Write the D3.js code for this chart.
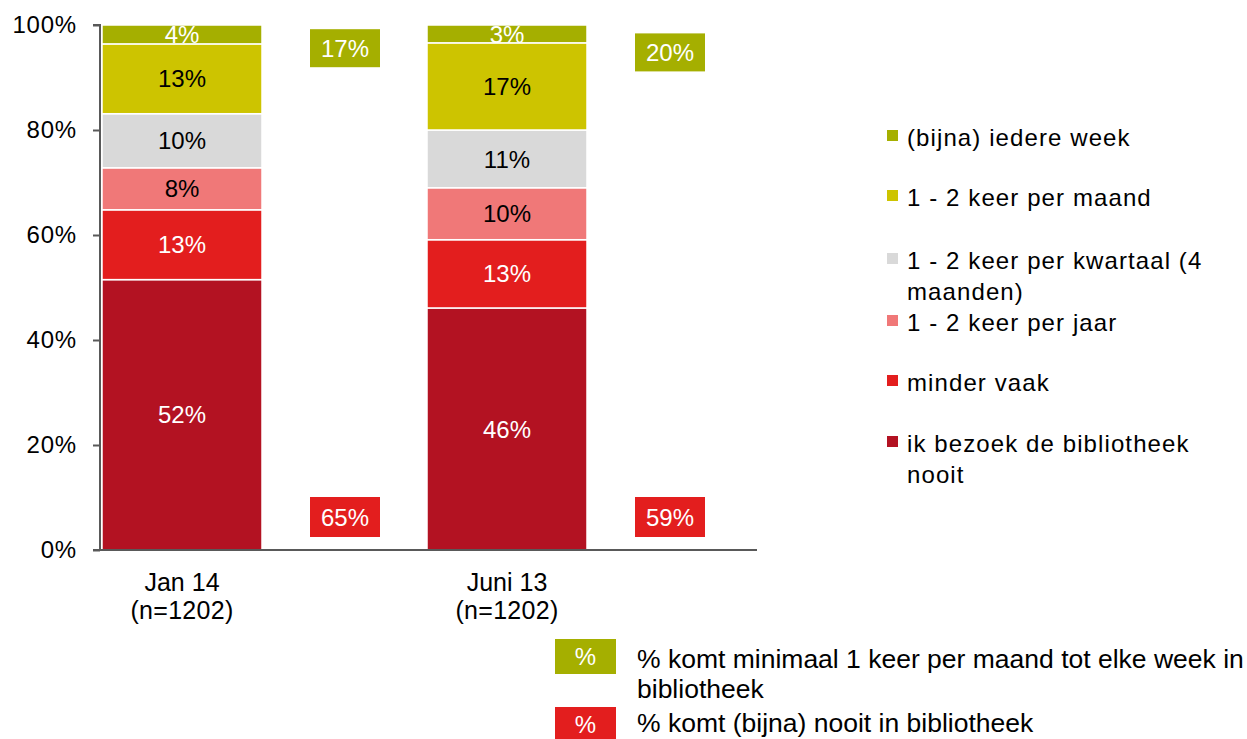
<!DOCTYPE html>
<html><head><meta charset="utf-8">
<script src="https://cdn.jsdelivr.net/npm/d3@7"></script>
<style>
body{margin:0;background:#fff;}
svg text{font-family:"Liberation Sans",Arial,sans-serif;}
</style></head>
<body><svg id="c" width="1247" height="739"></svg>
<script>
const categories = ["Jan 14", "Juni 13"];
const categorySub = ["(n=1202)", "(n=1202)"];
const seriesNames = ["ik bezoek de bibliotheek nooit", "minder vaak", "1 - 2 keer per jaar",
  "1 - 2 keer per kwartaal (4 maanden)", "1 - 2 keer per maand", "(bijna) iedere week"];
const seriesColors = ["#B31222", "#E31E1E", "#F07878", "#D9D9D9", "#CDC400", "#A5AF00"];
const labelColors = ["#fff", "#fff", "#000", "#000", "#000", "#fff"];
const valuesJan14 = [51.5, 13.3, 8.0, 10.3, 13.3, 3.6];
const valuesJuni13 = [46.1, 13.0, 9.9, 11.0, 16.6, 3.4];
const labelsJan14 = ["52%", "13%", "8%", "10%", "13%", "4%"];
const labelsJuni13 = ["46%", "13%", "10%", "11%", "17%", "3%"];
const summaryMonthly = ["17%", "20%"];
const summaryNever = ["65%", "59%"];
const yTicks = [0, 20, 40, 60, 80, 100];
const legendLines = [["(bijna) iedere week"], ["1 - 2 keer per maand"], ["1 - 2 keer per kwartaal (4", "maanden)"],
  ["1 - 2 keer per jaar"], ["minder vaak"], ["ik bezoek de bibliotheek", "nooit"]];
const bottomLegend = [
  {color: "#A5AF00", lines: ["% komt minimaal 1 keer per maand tot elke week in", "bibliotheek"]},
  {color: "#E31E1E", lines: ["% komt (bijna) nooit in bibliotheek"]}
];

const svg = d3.select("#c");
const y = d3.scaleLinear().domain([0, 100]).range([550, 25]);
const x = d3.scaleBand().domain(categories).range([100, 750]);
const barW = 160, boxW = 70;

const allValues = [valuesJan14, valuesJuni13];
const allLabels = [labelsJan14, labelsJuni13];

categories.forEach((cat, ci) => {
  const vals = allValues[ci];
  let cum = 0;
  const x0 = x(cat) + 2;
  vals.forEach((v, si) => {
    const y0 = cum, y1 = cum + v;
    cum = y1;
    svg.append("rect").attr("x", x0).attr("y", y(y1)).attr("width", barW)
      .attr("height", y(y0) - y(y1)).attr("fill", seriesColors[si])
      .attr("stroke", "#fff").attr("stroke-width", 1.5);
  });
  cum = 0;
  vals.forEach((v, si) => {
    const y0 = cum, y1 = cum + v;
    cum = y1;
    svg.append("text").attr("x", x0 + barW / 2).attr("y", (y(y0) + y(y1)) / 2)
      .attr("dy", "0.36em").attr("text-anchor", "middle").attr("font-size", 24)
      .attr("fill", labelColors[si]).text(allLabels[ci][si]);
  });
  // summary boxes
  const bx = x(cat) + 210;
  const topY = ci === 0 ? y(99.2) : y(98.4);
  svg.append("rect").attr("x", bx).attr("y", topY).attr("width", boxW).attr("height", 38).attr("fill", "#A5AF00");
  svg.append("text").attr("x", bx + boxW / 2).attr("y", topY + 19).attr("dy", "0.36em")
    .attr("text-anchor", "middle").attr("font-size", 24).attr("fill", "#fff").text(summaryMonthly[ci]);
  const botY = y(10);
  svg.append("rect").attr("x", bx).attr("y", botY - 0.5).attr("width", boxW).attr("height", 40).attr("fill", "#E31E1E");
  svg.append("text").attr("x", bx + boxW / 2).attr("y", botY + 20).attr("dy", "0.36em")
    .attr("text-anchor", "middle").attr("font-size", 24).attr("fill", "#fff").text(summaryNever[ci]);
  // category labels
  svg.append("text").attr("x", x0 + barW / 2).attr("y", 591)
    .attr("text-anchor", "middle").attr("font-size", 25).attr("fill", "#000").text(cat);
  svg.append("text").attr("x", x0 + barW / 2).attr("y", 619)
    .attr("text-anchor", "middle").attr("font-size", 25).attr("letter-spacing", "0.3px").attr("fill", "#000").text(categorySub[ci]);
});

// y axis
const yAxis = d3.axisLeft(y).tickValues(yTicks).tickFormat(d => d + "%").tickSize(7).tickPadding(16);
const gy = svg.append("g").attr("transform", "translate(100,0)").call(yAxis);
gy.select(".domain").attr("stroke", "#595959").attr("stroke-width", 2).attr("d", "M-7,25H0V550H-7");
gy.selectAll(".tick line").attr("stroke", "#595959").attr("stroke-width", 2);
gy.selectAll(".tick text").attr("font-size", 24).attr("letter-spacing", "0.8px").attr("fill", "#000")
  .attr("font-family", "Liberation Sans, Arial, sans-serif");

// x axis line
svg.append("line").attr("x1", 93).attr("x2", 757).attr("y1", y(0)).attr("y2", y(0))
  .attr("stroke", "#595959").attr("stroke-width", 2);

// right legend
const legendTop = [137, 197, 260, 322, 382, 443];
const lg = svg.append("g");
legendLines.forEach((lines, i) => {
  const idx = seriesColors.length - 1 - i;
  const cy = legendTop[i];
  lg.append("rect").attr("x", 887).attr("y", cy - 7).attr("width", 11).attr("height", 11).attr("fill", seriesColors[idx]);
  lines.forEach((t, j) => {
    lg.append("text").attr("x", 907).attr("y", cy + j * 31).attr("dy", "0.36em")
      .attr("font-size", 24).attr("fill", "#000").attr("letter-spacing", "1.1px").text(t);
  });
});

// bottom legend
const bl = svg.append("g");
const blTop = [639, 707];
bottomLegend.forEach((item, i) => {
  const t = blTop[i];
  bl.append("rect").attr("x", 555).attr("y", t).attr("width", 61).attr("height", 35).attr("fill", item.color);
  bl.append("text").attr("x", 585.5).attr("y", t + 17).attr("dy", "0.36em")
    .attr("text-anchor", "middle").attr("font-size", 24).attr("fill", "#fff").text("%");
  item.lines.forEach((ln, j) => {
    bl.append("text").attr("x", 637).attr("y", t + (i === 0 ? 29 : 25) + j * 30)
      .attr("font-size", 26.5).attr("fill", "#000").text(ln);
  });
});
</script></body></html>
